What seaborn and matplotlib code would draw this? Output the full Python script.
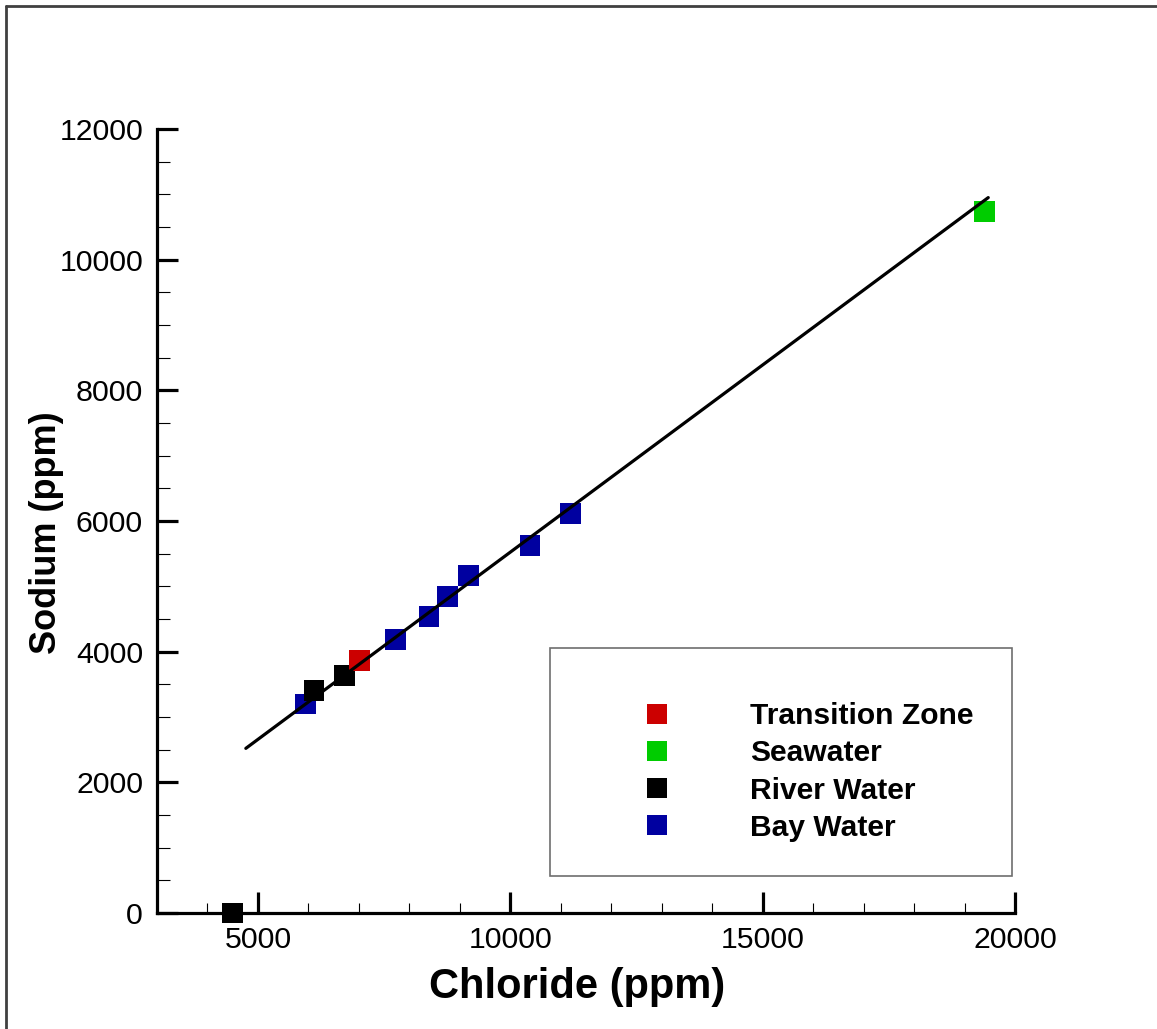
import matplotlib
matplotlib.use("Agg")
import matplotlib.pyplot as plt
from matplotlib.lines import Line2D
from matplotlib.patches import Rectangle
from matplotlib.ticker import MultipleLocator
import seaborn as sns
import pandas as pd

# ---- data ----
chloride = [5950, 7720, 8390, 8750, 9180, 10390, 11200,
            4490, 6110, 6710,
            7020,
            19390]
sodium = [3200, 4190, 4540, 4840, 5160, 5630, 6120,
          0, 3400, 3630,
          3870,
          10740]
group = ["Bay Water"] * 7 + ["River Water"] * 3 + ["Transition Zone"] + ["Seawater"]

legend_order = ["Transition Zone", "Seawater", "River Water", "Bay Water"]
group_colors = ["#CC0000", "#00CC00", "#000000", "#0000A0"]

fit_x = [4760, 19470]
fit_y = [2520, 10950]

x_ticks = [5000, 10000, 15000, 20000]
y_ticks = [0, 2000, 4000, 6000, 8000, 10000, 12000]

df = pd.DataFrame({"Chloride": chloride, "Sodium": sodium, "Group": group})
palette = dict(zip(legend_order, group_colors))

# ---- style ----
sns.set_theme(style="ticks")
plt.rcParams["font.family"] = ["Liberation Sans", "DejaVu Sans"]
plt.rcParams["text.color"] = "black"
plt.rcParams["axes.labelcolor"] = "black"

W, H, DPI = 1157, 1029, 100
fig = plt.figure(figsize=(W / DPI, H / DPI), dpi=DPI)
fig.patch.set_facecolor("white")

left_px, right_px, top_px, bottom_px = 157, 1015, 129, 913
aw, ah = right_px - left_px, bottom_px - top_px
ax = fig.add_axes([left_px / W, (H - bottom_px) / H, aw / W, ah / H])
ax.set_facecolor("white")

sns.scatterplot(data=df, x="Chloride", y="Sodium", hue="Group",
                palette=palette, marker="s", s=225, linewidth=0,
                legend=False, ax=ax, zorder=3)
for coll in ax.collections:
    coll.set_clip_on(False)

sns.lineplot(x=fit_x, y=fit_y, color="black", linewidth=2.3, sort=False,
             ax=ax, zorder=4)

ax.set_xlim(3000, 20000)
ax.set_ylim(0, 12000)
ax.set_xticks(x_ticks)
ax.set_yticks(y_ticks)
ax.xaxis.set_minor_locator(MultipleLocator(1000))
ax.yaxis.set_minor_locator(MultipleLocator(500))

for s in ["top", "right"]:
    ax.spines[s].set_visible(False)
for s in ["left", "bottom"]:
    ax.spines[s].set_linewidth(2.3)
    ax.spines[s].set_color("black")

ax.tick_params(which="major", direction="in", length=15, width=2.3,
               labelsize=21.8, colors="black")
ax.tick_params(axis="x", which="minor", direction="in", length=7.5, width=0.8, color="black")
ax.tick_params(axis="y", which="minor", direction="in", length=9, width=0.8, color="black")
ax.tick_params(axis="x", which="major", pad=9)
ax.tick_params(axis="y", which="major", pad=10)

ax.set_xlabel("Chloride (ppm)", fontsize=30, fontweight="bold")
ax.set_ylabel("Sodium (ppm)", fontsize=26, fontweight="bold")
ax.xaxis.set_label_coords((577 - left_px) / aw, (bottom_px - 967) / ah)
ax.yaxis.set_label_coords((64 - left_px) / aw, (bottom_px - 533) / ah)
ax.grid(False)

# ---- legend ----
handles = [Line2D([], [], marker="s", markersize=15, linestyle="none",
                  markerfacecolor=c, markeredgewidth=0) for c in group_colors]
leg = ax.legend(handles, legend_order, loc="upper left",
                bbox_to_anchor=((642 - left_px) / aw, (bottom_px - 702) / ah),
                frameon=False, borderpad=0, borderaxespad=0, handlelength=1.0,
                handletextpad=2.6, labelspacing=0.31,
                prop={"family": "Liberation Sans", "weight": "bold", "size": 21.6})
box = Rectangle(((550 - left_px) / aw, (bottom_px - 876) / ah),
                (1012 - 550) / aw, (876 - 648) / ah,
                transform=ax.transAxes, fill=False, edgecolor="#6E6E6E",
                linewidth=1.2, clip_on=False, zorder=2)
ax.add_patch(box)

# ---- figure frame (left and top edges) ----
fig.add_artist(Line2D([6 / W, 6 / W], [0, 1 - 6 / H], transform=fig.transFigure,
                      color="#404040", linewidth=2))
fig.add_artist(Line2D([6 / W, 1], [1 - 6 / H, 1 - 6 / H], transform=fig.transFigure,
                      color="#404040", linewidth=2))

fig.savefig("out.png", dpi=DPI, facecolor="white")
